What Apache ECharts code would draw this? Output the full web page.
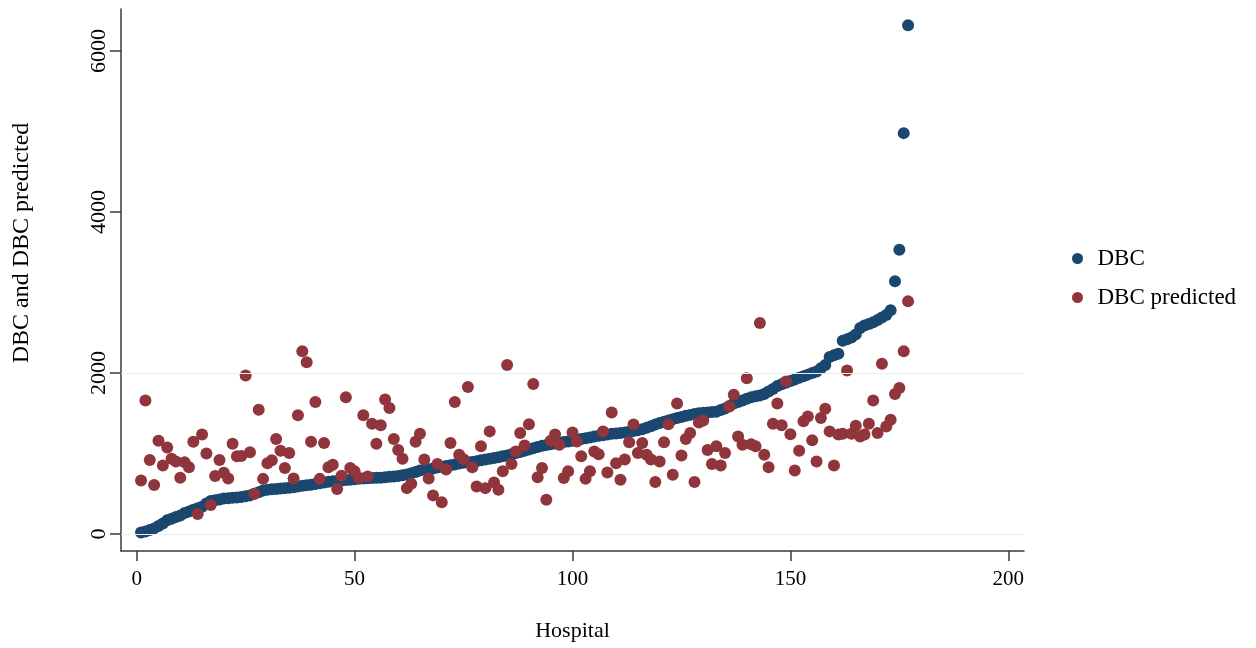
<!DOCTYPE html>
<html>
<head>
<meta charset="utf-8">
<script src="https://cdn.jsdelivr.net/npm/echarts@6/dist/echarts.min.js"></script>
<style>html,body{margin:0;padding:0;background:#fff}#c{width:1256px;height:648px}</style>
</head>
<body>
<div id="c"></div>
<script>
// DBC (sorted) for hospitals 1..177
const dbc = [20,30,50,70,100,130,170,190,210,230,260,280,300,320,340,380,410,420,430,440,
445,450,455,460,470,480,500,520,540,550,555,560,565,570,575,580,590,600,605,612,
620,630,640,650,655,660,665,670,675,680,685,690,692,695,698,700,705,710,715,720,
730,740,755,770,790,800,805,815,825,835,845,855,865,875,885,890,895,905,915,925,
935,945,955,965,975,990,1005,1020,1035,1050,1065,1080,1095,1105,1115,1125,1135,1142,1150,1160,
1170,1180,1190,1200,1210,1220,1228,1236,1244,1250,1256,1262,1270,1280,1290,1300,1320,1340,1360,1380,
1395,1410,1425,1440,1455,1470,1480,1490,1500,1505,1510,1515,1520,1540,1560,1590,1620,1640,1660,1680,
1700,1710,1720,1740,1770,1800,1840,1860,1880,1900,1920,1940,1960,1980,2000,2020,2060,2100,2200,2220,
2240,2400,2420,2440,2480,2560,2590,2610,2630,2660,2690,2720,2780,3140,3530,4980,6320];
// DBC predicted for hospitals 1..177
const dbcPredicted = [666,1660,920,610,1160,850,1075,935,900,700,890,830,1145,250,1235,1000,360,720,920,760,
690,1120,965,970,1970,1015,500,1545,685,880,915,1180,1035,820,1005,690,1475,2270,2135,1145,
1640,685,1130,830,860,560,725,1700,820,780,695,1475,715,1370,1120,1350,1670,1565,1180,1045,
935,570,625,1145,1245,925,690,480,870,395,800,1130,1640,985,930,1825,830,590,1090,570,
1275,640,550,780,2100,870,1025,1255,1100,1365,1865,705,820,425,1160,1235,1110,695,780,1260,
1150,965,685,780,1025,990,1275,765,1510,880,675,925,1140,1360,1005,1130,985,925,645,900,
1140,1365,735,1620,975,1180,1255,645,1385,1410,1045,870,1090,850,1005,1585,1730,1210,1110,1935,
1115,1090,2620,985,830,1370,1620,1350,1895,1240,790,1035,1400,1460,1165,900,1440,1555,1275,850,
1235,1245,2030,1245,1345,1210,1235,1370,1660,1255,2115,1335,1420,1740,1815,2270,2890];
const xTicks = [0, 50, 100, 150, 200];
const yTicks = [0, 2000, 4000, 6000];
const gridValues = [0, 2000];

const toPoints = arr => arr.map((v, i) => [i + 1, v]);
const FONT = 'Liberation Serif';
const NAVY = '#1a476f', MAROON = '#90353b', AX = '#3a3a3a';

const chart = echarts.init(document.getElementById('c'), null, {renderer: 'canvas'});
chart.setOption({
  backgroundColor: '#fff',
  animation: false,
  textStyle: {fontFamily: FONT, color: '#000'},
  grid: {left: 121, right: 232, top: 9, bottom: 97, containLabel: false, outerBoundsMode: 'none'},
  xAxis: {
    type: 'value', min: -3.6, max: 203.6,
    name: 'Hospital', nameLocation: 'middle', nameGap: 69,
    nameTextStyle: {fontFamily: FONT, fontSize: 22, color: '#000'},
    axisLine: {show: true, onZero: false, lineStyle: {color: AX, width: 1.5}},
    axisTick: {show: true, length: 10, customValues: xTicks, lineStyle: {color: AX, width: 1.5}},
    axisLabel: {customValues: xTicks, margin: 18, fontFamily: FONT, fontSize: 21, color: '#000',
      formatter: v => String(v)},
    splitLine: {show: false}
  },
  yAxis: {
    type: 'value', min: -211, max: 6522,
    axisLine: {show: true, onZero: false, lineStyle: {color: AX, width: 1.5}},
    axisTick: {show: true, length: 11, customValues: yTicks, lineStyle: {color: AX, width: 1.5}},
    axisLabel: {customValues: yTicks, rotate: 90, margin: 11, fontFamily: FONT, fontSize: 22, color: '#000',
      formatter: v => String(v)},
    splitLine: {show: false}
  },
  legend: {
    orient: 'vertical', left: 1067, top: 242, itemGap: 16,
    itemWidth: 30, itemHeight: 11,
    textStyle: {fontFamily: FONT, fontSize: 23, color: '#000'},
    data: [{name: 'DBC', icon: 'circle'}, {name: 'DBC predicted', icon: 'circle'}]
  },
  graphic: [{
    type: 'text', x: 22, y: 243, rotation: Math.PI / 2,
    style: {text: 'DBC and DBC predicted', fontFamily: FONT, fontSize: 24, fill: '#000', align: 'center', verticalAlign: 'middle'}
  }],
  series: [
    {
      type: 'line', data: [], z: 1, silent: true,
      markLine: {
        silent: true, symbol: 'none', label: {show: false},
        lineStyle: {color: '#e6eef0', width: 1, type: 'solid'},
        data: gridValues.map(v => ({yAxis: v}))
      }
    },
    {
      name: 'DBC', type: 'scatter', z: 3, symbol: 'circle', symbolSize: 12,
      itemStyle: {color: NAVY, opacity: 1},
      data: toPoints(dbc)
    },
    {
      name: 'DBC predicted', type: 'scatter', z: 4, symbol: 'circle', symbolSize: 12,
      itemStyle: {color: MAROON, opacity: 1},
      data: toPoints(dbcPredicted)
    }
  ]
});
</script>
</body>
</html>
